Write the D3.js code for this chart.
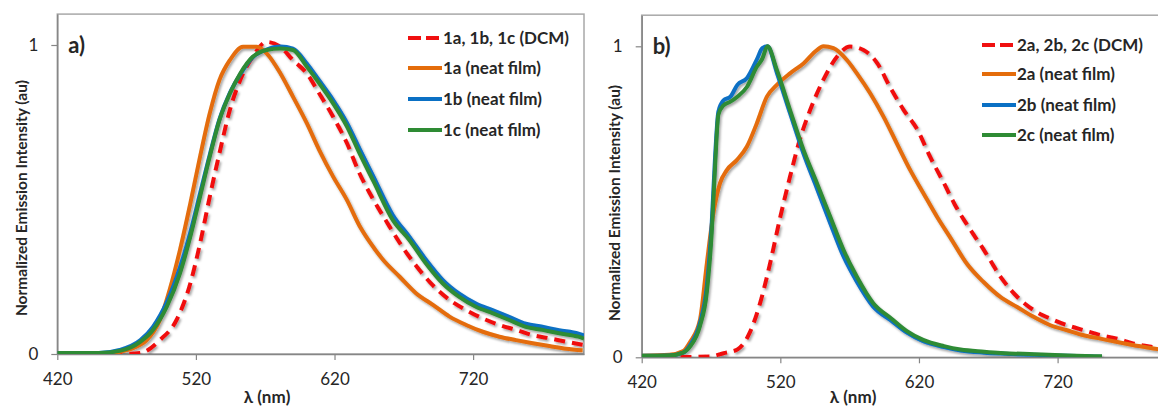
<!DOCTYPE html>
<html>
<head>
<meta charset="utf-8">
<script src="https://cdn.jsdelivr.net/npm/d3@7"></script>
<style>
  body { margin: 0; background: #fff; }
  text { font-family: Lato, "Open Sans", sans-serif; fill: #262626; }
</style>
</head>
<body>
<div id="app"></div>
<script>
const container = document.querySelector('#app');

const width = 1158;
const height = 409;

// tick labels
const xTicks = [420, 520, 620, 720];
const yTicks = [0, 1];

// panel a) spectra
const lamA_dcm = [420, 470, 480, 494, 506, 516, 523, 530, 537, 544.5, 552, 561, 571, 581, 590, 600, 609, 619, 629, 638, 648, 658, 667, 679, 691, 703, 715, 727, 739, 751, 763, 775, 787, 799];
const intA_dcm = [0, 0, 0.003, 0.045, 0.11, 0.229, 0.358, 0.509, 0.65, 0.79, 0.887, 0.962, 1.01, 0.994, 0.951, 0.908, 0.843, 0.768, 0.682, 0.585, 0.5, 0.425, 0.36, 0.285, 0.222, 0.175, 0.142, 0.115, 0.094, 0.078, 0.061, 0.051, 0.04, 0.03];

const lamA_1a = [420, 460, 465, 475, 484.5, 494, 501, 508.5, 516, 523, 530, 537, 544.5, 554, 564, 571, 581, 590, 600, 609, 619, 629, 638, 645, 655, 667, 679, 691, 703, 715, 727, 739, 751, 763, 775, 787, 799];
const intA_1a = [0, 0, 0.007, 0.02, 0.045, 0.11, 0.207, 0.337, 0.488, 0.639, 0.779, 0.887, 0.951, 0.994, 0.994, 0.973, 0.908, 0.833, 0.747, 0.66, 0.574, 0.498, 0.415, 0.365, 0.305, 0.25, 0.196, 0.159, 0.121, 0.094, 0.072, 0.056, 0.045, 0.035, 0.026, 0.017, 0.012];

const lamA_1bc = [420, 450, 465, 480, 489, 499, 508.5, 516, 523, 530, 537, 544.5, 552, 561, 571, 581, 590, 600, 609, 619, 629, 638, 648, 662, 674, 686, 698, 710, 722, 734, 746, 758, 770, 782, 796, 800];
const intA_1b = [0.003, 0.003, 0.013, 0.045, 0.088, 0.168, 0.28, 0.395, 0.52, 0.645, 0.76, 0.845, 0.905, 0.96, 0.985, 0.995, 0.988, 0.94, 0.885, 0.822, 0.748, 0.665, 0.575, 0.45, 0.38, 0.305, 0.24, 0.195, 0.163, 0.142, 0.12, 0.098, 0.088, 0.077, 0.066, 0.06];
const intA_1c = [0.003, 0.003, 0.01, 0.04, 0.078, 0.153, 0.261, 0.38, 0.509, 0.639, 0.757, 0.843, 0.908, 0.962, 0.984, 0.989, 0.984, 0.93, 0.876, 0.811, 0.736, 0.65, 0.56, 0.434, 0.369, 0.293, 0.229, 0.185, 0.153, 0.132, 0.11, 0.088, 0.078, 0.067, 0.056, 0.05];

// panel b) spectra
const lamB_dcm = [435, 470, 479, 489, 498, 505.4, 512.6, 520, 527, 534, 541.5, 551, 561, 570.4, 580, 590, 599, 609, 619, 628, 638, 646, 655, 667, 679, 691, 703, 715, 727, 739, 751, 763, 775, 789, 800];
const intB_dcm = [0, 0.003, 0.013, 0.025, 0.08, 0.174, 0.302, 0.452, 0.581, 0.699, 0.795, 0.892, 0.967, 0.999, 0.988, 0.945, 0.87, 0.795, 0.731, 0.645, 0.56, 0.49, 0.424, 0.344, 0.258, 0.194, 0.151, 0.124, 0.103, 0.087, 0.071, 0.06, 0.044, 0.033, 0.028];

const lamB_2a = [420, 440, 450, 455, 462, 467, 471.7, 476.5, 481.4, 488.6, 495.8, 503, 510.3, 517.5, 527, 536.7, 546.4, 551, 558.3, 568, 575.2, 584.8, 594.4, 604, 613.7, 623.3, 633, 642.6, 654.7, 666.6, 678.7, 690.8, 702.7, 714.8, 726.9, 738.8, 750.9, 763, 775, 789, 800];
const intB_2a = [0.005, 0.008, 0.02, 0.05, 0.12, 0.302, 0.463, 0.56, 0.602, 0.634, 0.677, 0.752, 0.838, 0.876, 0.913, 0.945, 0.988, 1.0, 0.994, 0.956, 0.913, 0.849, 0.774, 0.688, 0.602, 0.527, 0.452, 0.385, 0.3, 0.242, 0.194, 0.162, 0.13, 0.103, 0.087, 0.071, 0.06, 0.049, 0.039, 0.028, 0.022];

const lamB_2bc = [420, 440, 450, 455, 462, 467, 470.5, 473, 475.3, 479, 484, 489, 496, 503, 507, 510.7, 517.5, 527, 536.7, 546.4, 556, 565.6, 575.2, 587, 600, 611, 623, 638, 650, 667, 679, 703, 727, 752];
const intB_2b = [0.005, 0.006, 0.015, 0.04, 0.11, 0.23, 0.43, 0.65, 0.79, 0.826, 0.838, 0.876, 0.898, 0.957, 0.994, 1.0, 0.915, 0.785, 0.655, 0.543, 0.431, 0.324, 0.243, 0.163, 0.118, 0.08, 0.052, 0.033, 0.022, 0.015, 0.012, 0.008, 0.005, 0.002];
const intB_2c = [0.005, 0.006, 0.015, 0.035, 0.1, 0.21, 0.4, 0.62, 0.78, 0.81, 0.822, 0.838, 0.87, 0.934, 0.96, 1.0, 0.924, 0.795, 0.667, 0.56, 0.452, 0.345, 0.259, 0.174, 0.125, 0.085, 0.056, 0.036, 0.025, 0.018, 0.014, 0.01, 0.006, 0.003];

const red = "#f01010", orange = "#e46c0a", blue = "#0a70c4", green = "#2e8b34";

const panels = [
  {
    label: "a)", left: 57.3, right: 584, bottom: 354, unit: 309,
    legendX: 408, legendY: [38, 68, 99, 130], yTitleX: 21, yTitleY: 198, xTitleX: 267,
    series: [
      { name: "1a, 1b, 1c (DCM)", lam: lamA_dcm, val: intA_dcm, color: red, dash: true },
      { name: "1a (neat film)", lam: lamA_1a, val: intA_1a, color: orange },
      { name: "1b (neat film)", lam: lamA_1bc, val: intA_1b, color: blue },
      { name: "1c (neat film)", lam: lamA_1bc, val: intA_1c, color: green }
    ]
  },
  {
    label: "b)", left: 641.7, right: 1168.5, bottom: 357.3, unit: 311,
    legendX: 982, legendY: [45, 74, 105, 135], yTitleX: 614, yTitleY: 203, xTitleX: 853,
    series: [
      { name: "2a, 2b, 2c (DCM)", lam: lamB_dcm, val: intB_dcm, color: red, dash: true },
      { name: "2a (neat film)", lam: lamB_2a, val: intB_2a, color: orange },
      { name: "2b (neat film)", lam: lamB_2bc, val: intB_2b, color: blue },
      { name: "2c (neat film)", lam: lamB_2bc, val: intB_2c, color: green }
    ]
  }
];

// Create the SVG container.
const svg = d3.create("svg")
    .attr("width", width)
    .attr("height", height);

// soft shadow under the lines
const defs = svg.append("defs");
defs.append("filter")
    .attr("id", "shadow")
    .attr("x", "-5%").attr("y", "-5%").attr("width", "110%").attr("height", "110%")
  .append("feDropShadow")
    .attr("dx", 1.5).attr("dy", 2)
    .attr("stdDeviation", 1.2)
    .attr("flood-color", "#000")
    .attr("flood-opacity", 0.35);

panels.forEach((p, i) => {
  const top = p.bottom - 1.1 * p.unit;

  const x = d3.scaleLinear()
      .domain([420, 800])
      .range([p.left, p.right]);

  const y = d3.scaleLinear()
      .domain([0, 1.1])
      .range([p.bottom, top]);

  const g = svg.append("g");

  // plot border
  g.append("rect")
      .attr("x", p.left)
      .attr("y", top)
      .attr("width", p.right - p.left)
      .attr("height", p.bottom - top)
      .attr("fill", "none")
      .attr("stroke", "#a8a8a8")
      .attr("stroke-width", 1.5);

  // Add the x-axis.
  const xAxis = g.append("g")
      .attr("transform", `translate(0,${p.bottom})`)
      .call(d3.axisBottom(x).tickValues(xTicks).tickSize(6).tickSizeOuter(0).tickPadding(13));

  // Add the y-axis.
  const yAxis = g.append("g")
      .attr("transform", `translate(${p.left},0)`)
      .call(d3.axisLeft(y).tickValues(yTicks).tickFormat(d3.format("d"))
        .tickSize(6).tickSizeOuter(0).tickPadding(13));

  [xAxis, yAxis].forEach(a => {
    a.select(".domain").attr("stroke", "#868686").attr("stroke-width", 1.5);
    a.selectAll(".tick line").attr("stroke", "#868686").attr("stroke-width", 1.2);
    a.selectAll(".tick text")
        .attr("font-family", "Lato, sans-serif")
        .attr("font-size", 17)
        .attr("fill", "#262626");
  });

  // clip the curves to the plot area
  const clipId = "clip" + i;
  defs.append("clipPath").attr("id", clipId)
    .append("rect")
      .attr("x", p.left).attr("y", top - 10)
      .attr("width", Math.min(p.right, width) - p.left)
      .attr("height", p.bottom - top + 10);

  const line = d3.line()
      .x(d => x(d[0]))
      .y(d => y(d[1]))
      .curve(d3.curveMonotoneX);

  // draw the spectra
  const curves = g.append("g")
      .attr("clip-path", `url(#${clipId})`)
      .attr("filter", "url(#shadow)");

  p.series.forEach(s => {
    curves.append("path")
        .datum(d3.zip(s.lam, s.val))
        .attr("fill", "none")
        .attr("stroke", s.color)
        .attr("stroke-width", 4)
        .attr("stroke-linejoin", "round")
        .attr("stroke-dasharray", s.dash ? "11,7" : null)
        .attr("d", line);
  });

  // legend
  const legend = g.append("g");
  p.series.forEach((s, k) => {
    const ly = p.legendY[k];
    legend.append("line")
        .attr("x1", p.legendX).attr("x2", p.legendX + 34)
        .attr("y1", ly).attr("y2", ly)
        .attr("stroke", s.color)
        .attr("stroke-width", 4)
        .attr("stroke-dasharray", s.dash ? "13,5" : null);
    legend.append("text")
        .attr("x", p.legendX + 35)
        .attr("y", ly)
        .attr("dy", "0.36em")
        .attr("font-size", 17)
        .attr("font-weight", "bold")
        .text(s.name);
  });

  // panel letter
  g.append("text")
      .attr("x", p.left + 11)
      .attr("y", top + 39)
      .attr("font-size", 22)
      .attr("font-weight", "bold")
      .text(p.label);

  // axis titles
  g.append("text")
      .attr("x", p.xTitleX)
      .attr("y", 403)
      .attr("text-anchor", "middle")
      .attr("font-size", 17)
      .attr("font-weight", "bold")
      .text("λ (nm)");

  g.append("text")
      .attr("transform", `translate(${p.yTitleX},${p.yTitleY}) rotate(-90)`)
      .attr("text-anchor", "middle")
      .attr("dy", "0.36em")
      .attr("font-size", 15.5)
      .attr("font-weight", "bold")
      .text("Normalized Emission Intensity (au)");
});

// Append the SVG element.
container.append(svg.node());
</script>
</body>
</html>
